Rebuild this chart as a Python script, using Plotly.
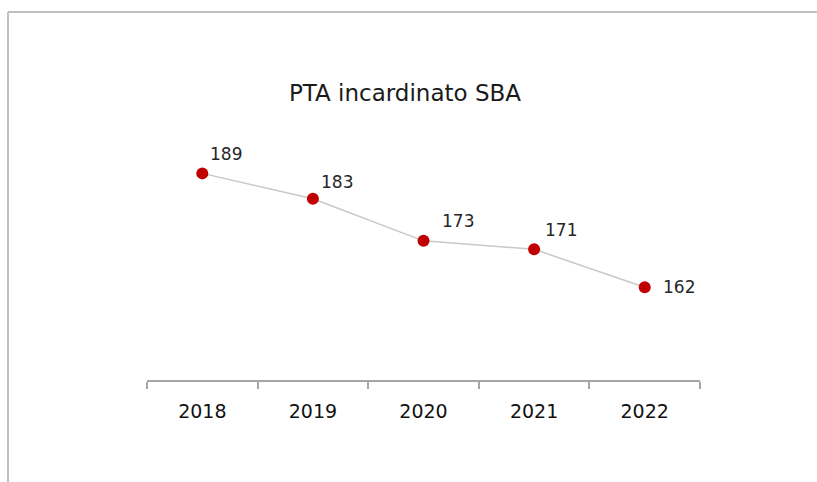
import plotly.graph_objects as go

# --- Dati ---
anni = ["2018", "2019", "2020", "2021", "2022"]
pta = [189, 183, 173, 171, 162]

# spostamento delle etichette rispetto al punto (px)
label_dx = [24, 24, 34, 27, 34]
label_dy = [19, 17, 20, 19, 0]

font = "DejaVu Sans"
W, H = 817, 482
ml, mr, mt, mb = 147, 117, 127, 102
pw, ph = W - ml - mr, H - mt - mb


def px_x(px):
    return (px - ml) / pw


def px_y(py):
    return (H - mb - py) / ph


fig = go.Figure()
fig.add_trace(go.Scatter(
    x=anni,
    y=pta,
    mode="lines+markers",
    line=dict(color="#c8c8c8", width=1.5),
    marker=dict(color="#c00000", size=12),
    hoverinfo="x+y",
    showlegend=False,
))

# etichette dei valori (x = indice della categoria)
annotations = []
for i, (v, dx, dy) in enumerate(zip(pta, label_dx, label_dy)):
    annotations.append(dict(
        x=i, y=v, xref="x", yref="y", text=str(v), showarrow=False,
        xanchor="center", yanchor="middle",
        xshift=dx, yshift=dy,
        font=dict(family=font, size=17, color="#262626"),
    ))

# bordo grigio (in alto e a sinistra)
border = dict(color="#bfbfbf", width=2)
shapes = [
    dict(type="line", xref="paper", yref="paper",
         x0=px_x(8), x1=px_x(W + 20), y0=px_y(12), y1=px_y(12), line=border),
    dict(type="line", xref="paper", yref="paper",
         x0=px_x(8), x1=px_x(8), y0=px_y(12), y1=px_y(H + 20), line=border),
]

fig.update_layout(
    width=W, height=H,
    margin=dict(l=ml, r=mr, t=mt, b=mb),
    title=dict(text="PTA incardinato SBA", x=405 / W, xanchor="center",
               xref="container", yref="container", y=1 - 93 / H, yanchor="middle",
               font=dict(family=font, size=23, color="#1a1a1a")),
    plot_bgcolor="white",
    paper_bgcolor="white",
    annotations=annotations,
    shapes=shapes,
)

fig.update_xaxes(
    type="category",
    range=[-0.5, 4.5],
    showline=True, linecolor="#a6a6a6", linewidth=1.5,
    ticks="outside", tickson="boundaries", ticklen=7, tickcolor="#a6a6a6", tickwidth=1.5,
    ticklabelstandoff=13,
    showgrid=False, zeroline=False,
    tickfont=dict(family=font, size=19, color="#111111"),
)
fig.update_yaxes(
    range=[140, 200],
    showticklabels=False, showline=False, ticks="",
    showgrid=False, zeroline=False,
)

# niente margine del body, così il grafico parte dall'angolo della pagina
fig.write_html(
    "out.html",
    config={"displayModeBar": False},
    post_script="document.body.style.margin='0';document.body.style.overflow='hidden';",
)
